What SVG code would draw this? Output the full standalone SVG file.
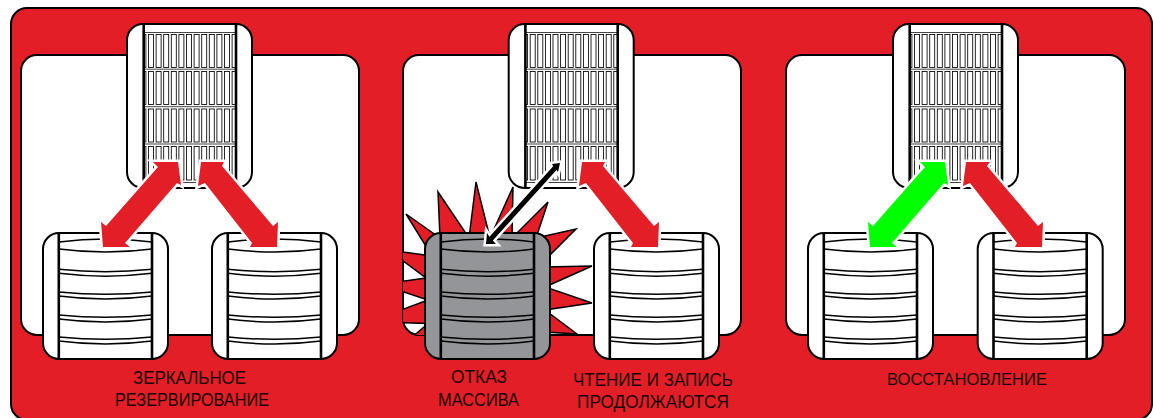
<svg xmlns="http://www.w3.org/2000/svg" width="1153" height="418" viewBox="0 0 1153 418">
<style>
.frame{fill:#e31e26;stroke:#000;stroke-width:2}
.panel{fill:#fff;stroke:#000;stroke-width:2}
.body{stroke:#000;stroke-width:2}
.v{stroke:#000;stroke-width:2.6;fill:none}
.arc{stroke:#000;stroke-width:1.5;fill:none}
.cell{fill:#fff;stroke:#000;stroke-width:0.85}
.sep{stroke:#444;stroke-width:1}
.halo{fill:#fff;stroke:#fff;stroke-width:5;stroke-linejoin:miter}
.red{fill:#e31e26}
.green{fill:#00ff00}
.black{fill:#000}
.burst{fill:#e31e26;stroke:#000;stroke-width:1.5;stroke-linejoin:miter}
.disk-ok{fill:#fff}
.disk-bad{fill:#939598}
text{font-family:"Liberation Sans",Arial,sans-serif;fill:#1a0505;font-size:18.5px}
</style>
<defs>
<clipPath id="gridClip"><rect x="144" y="30" width="92" height="156"/></clipPath>
<clipPath id="panelClip"><rect x="403" y="55" width="338" height="280" rx="16"/></clipPath>
<g id="col">
<rect class="cell" x="148.5" y="34.5" width="5" height="33"/>
<rect class="cell" x="148.5" y="71.5" width="5" height="33"/>
<rect class="cell" x="148.5" y="109" width="5" height="33"/>
<rect class="cell" x="148.5" y="146.5" width="5" height="33.5"/>
</g>
<g id="server">
<rect x="127" y="24" width="125" height="164" rx="16" fill="#fff" stroke="#000" stroke-width="2"/>
<g clip-path="url(#gridClip)">
<use href="#col" x="-7.6"/><use href="#col"/><use href="#col" x="7.6"/><use href="#col" x="15.2"/><use href="#col" x="22.8"/><use href="#col" x="30.4"/><use href="#col" x="38"/><use href="#col" x="45.6"/><use href="#col" x="53.2"/><use href="#col" x="60.8"/><use href="#col" x="68.4"/><use href="#col" x="76"/><use href="#col" x="83.6"/>
</g>
<path class="sep" d="M144 32.5H236M144 69.2H236M144 106.7H236M144 144H236M144 182.5H236"/>
<path class="v" d="M143.7 24V187M236 24V187"/>
</g>
<g id="disk">
<rect class="body" x="43" y="233" width="125" height="126" rx="16"/>
<path class="v" d="M58.8 233V359M152 233V359"/>
<path class="arc" d="M59 242Q105.500 236 152 242M59 249Q105.500 255 152 249M59 269.300Q105.500 274 152 269.300M59 273.300Q105.500 279 152 273.300M59 292Q105.500 296.500 152 292M59 296Q105.500 302 152 296M59 315Q105.500 319.500 152 315M59 319Q105.500 325 152 319M59 337Q105.500 341.500 152 337M59 341Q105.500 347 152 341"/>
</g>
<path id="a1" d="M153 162L178 162L181 185L177 183L125 243L130 247L103 247L101 222L106 226L158 167Z"/>
<path id="a2" d="M201 162L224 162L222 166L273 226L278 222L277 247L250 247L252 243L205 183L198 186Z"/>
<path id="a3" d="M560 163L558 172L556.500 170L492.800 240.500L496 244L486 244L487 233L489.500 236.800L553.200 166.300L552 164Z"/>
<path id="a4" d="M582 162L605 162L603 166L654 226L659 222L658 247L631 247L633 243L586 183L579 186Z"/>
<path id="a5" d="M920 162L945 162L948 185L944 183L892 243L897 247L870 247L868 222L873 226L925 167Z"/>
<path id="a6" d="M966 162L990 162L987 166L1038 226L1043 222L1042 247L1015 247L1017 243L970 183L963 186Z"/>
</defs>
<rect class="frame" x="11" y="8" width="1141" height="412" rx="16"/>
<g id="panel-mirror"><rect class="panel" x="21" y="55" width="338" height="280" rx="16"/></g>
<g id="panel-failure"><rect class="panel" x="403" y="55" width="338" height="280" rx="16"/></g>
<g id="panel-rebuild"><rect class="panel" x="786" y="55" width="339" height="280" rx="16"/></g>
<g id="burst" clip-path="url(#panelClip)">
<path class="burst" d="M406 214L440 238L438 192L469 238L476 182L490 238L513 187L512 238L548 202L536 238L576 229L545 260L545 267L592 266L545 287L592 303L545 310L577 334L545 332L430 345L395 352L428 323.500L370 321.600L428 300L380 284.300L426 278L388.500 250L432 256Z"/>
</g>
<g id="array-1"><use href="#server"/></g>
<g id="disk-1a" class="disk-ok"><use href="#disk"/></g>
<g id="disk-1b" class="disk-ok"><use href="#disk" x="169"/></g>
<g id="array-2"><use href="#server" x="381.700"/></g>
<g id="disk-2a" class="disk-bad"><use href="#disk" x="382"/></g>
<g id="disk-2b" class="disk-ok"><use href="#disk" x="551"/></g>
<g id="array-3"><use href="#server" x="766"/></g>
<g id="disk-3a" class="disk-ok"><use href="#disk" x="765"/></g>
<g id="disk-3b" class="disk-ok"><use href="#disk" x="934.700"/></g>
<g id="connectors">
<use href="#a1" class="halo"/><use href="#a1" class="red"/>
<use href="#a2" class="halo"/><use href="#a2" class="red"/>
<use href="#a3" class="halo"/><use href="#a3" class="black"/>
<use href="#a4" class="halo"/><use href="#a4" class="red"/>
<use href="#a5" class="halo"/><use href="#a5" class="green"/>
<use href="#a6" class="halo"/><use href="#a6" class="red"/>
</g>
<g id="labels">
<text x="133" y="384" textLength="113" lengthAdjust="spacingAndGlyphs">ЗЕРКАЛЬНОЕ</text>
<text x="115" y="405.700" textLength="154" lengthAdjust="spacingAndGlyphs">РЕЗЕРВИРОВАНИЕ</text>
<text x="451" y="383.300" textLength="56" lengthAdjust="spacingAndGlyphs">ОТКАЗ</text>
<text x="438" y="406" textLength="81" lengthAdjust="spacingAndGlyphs">МАССИВА</text>
<text x="573" y="385.700" textLength="160" lengthAdjust="spacingAndGlyphs">ЧТЕНИЕ И ЗАПИСЬ</text>
<text x="577" y="407.700" textLength="152" lengthAdjust="spacingAndGlyphs">ПРОДОЛЖАЮТСЯ</text>
<text x="887" y="385" textLength="160" lengthAdjust="spacingAndGlyphs" style="font-size:16px">ВОССТАНОВЛЕНИЕ</text>
</g>
</svg>
